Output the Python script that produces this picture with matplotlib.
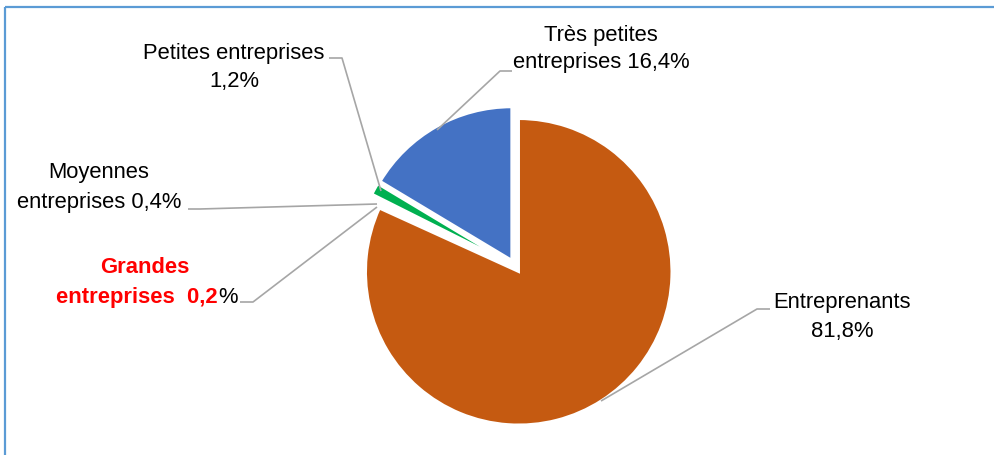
import matplotlib
matplotlib.use("Agg")
import matplotlib.pyplot as plt

# ---- data ----
categories = ["Entreprenants", "Grandes entreprises", "Moyennes entreprises",
              "Petites entreprises", "Très petites entreprises"]
values = [81.8, 0.2, 0.4, 1.2, 16.4]
value_labels = ["81,8%", "0,2%", "0,4%", "1,2%", "16,4%"]
colors = ["#C55A11", "#FFFFFF", "#FFFFFF", "#00B050", "#4472C4"]

W, H = 995, 455
plt.rcParams['font.family'] = ['Liberation Sans', 'DejaVu Sans']
FS = 15.8
R = 153

fig = plt.figure(figsize=(W / 100, H / 100), dpi=100)
ax = fig.add_axes([0, 0, 1, 1])
ax.set_xlim(0, W)
ax.set_ylim(0, H)
ax.set_aspect('equal')
ax.axis('off')


def Y(y):
    return H - y


ax.pie(values, colors=colors, startangle=90, counterclock=False,
       explode=[0.045 * R] * len(values), radius=R, center=(515, Y(266)),
       wedgeprops=dict(edgecolor='white', linewidth=1.8), frame=False)
ax.set_xlim(0, W)
ax.set_ylim(0, H)

grey = '#A6A6A6'


def leader(pts):
    xs = [p[0] for p in pts]
    ys = [Y(p[1]) for p in pts]
    ax.plot(xs, ys, color=grey, lw=1.2, solid_capstyle='butt', zorder=1)


def label(x, lines, baselines, color='black', weight='normal'):
    for t, b in zip(lines, baselines):
        ax.text(x, Y(b), t, ha='center', va='baseline', fontsize=FS,
                color=color, fontweight=weight)


# Très petites entreprises
label(601, ["Très petites", "entreprises " + value_labels[4]], [41, 68])
leader([(512, 71), (500, 71), (437, 130)])

# Petites entreprises
label(234, ["Petites entreprises", value_labels[3]], [59, 87])
leader([(329, 58), (342, 58), (381, 191)])

# Moyennes entreprises
label(99, ["Moyennes", "entreprises " + value_labels[2]], [178, 208])
leader([(188, 209), (200, 209), (377, 204)])

# Grandes entreprises (red bold, % in black)
ax.text(145, Y(273), "Grandes", ha='center', va='baseline', fontsize=FS,
        color='#FF0000', fontweight='bold')
ax.text(218, Y(303), "entreprises  " + value_labels[1][:-1], ha='right',
        va='baseline', fontsize=FS, color='#FF0000', fontweight='bold')
ax.text(218, Y(303), "%", ha='left', va='baseline', fontsize=FS, color='black')
leader([(240, 302), (253, 302), (377, 207)])

# Entreprenants
label(842, ["Entreprenants", value_labels[0]], [308, 337])
leader([(770, 309), (757, 309), (601, 401)])

# chart border (top and left)
border = '#5B9BD5'
ax.plot([5, W], [Y(6.5), Y(6.5)], color=border, lw=1.6, solid_capstyle='butt')
ax.plot([5, 5], [Y(6.5), 0], color=border, lw=1.6, solid_capstyle='butt')

fig.savefig("out.png", dpi=100)
